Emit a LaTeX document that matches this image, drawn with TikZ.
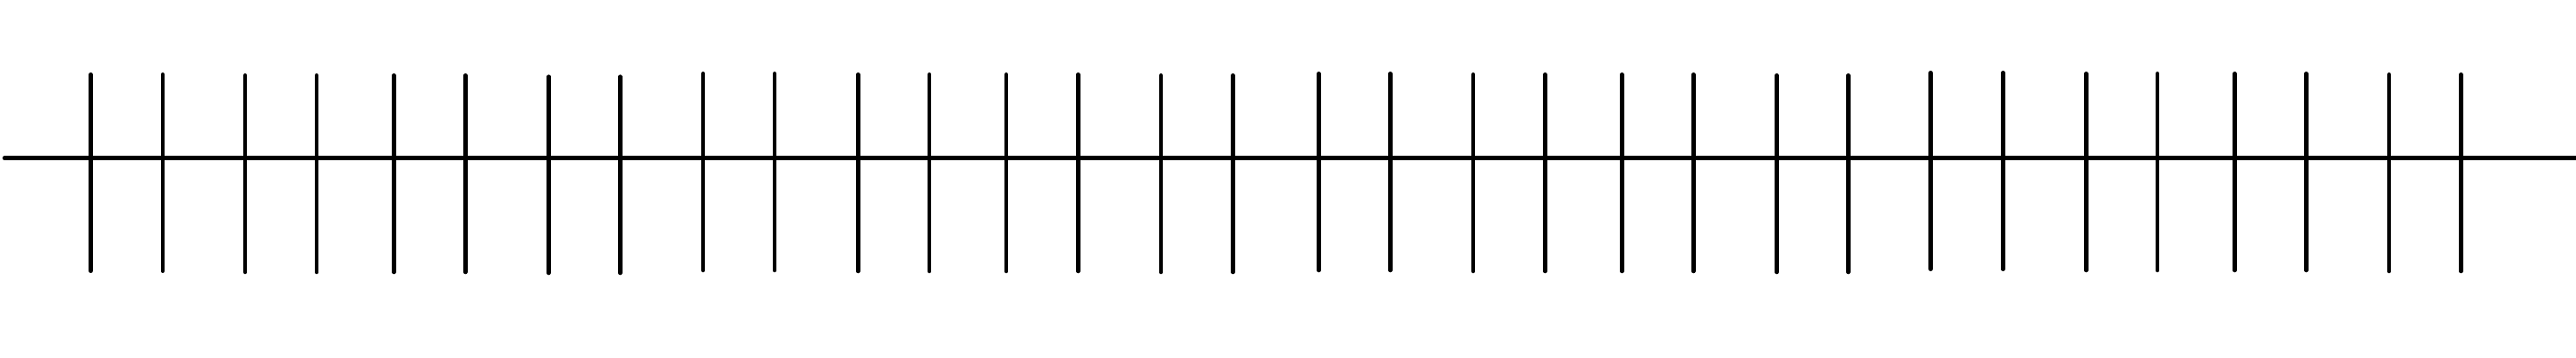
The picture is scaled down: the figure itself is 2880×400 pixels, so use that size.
\documentclass[tikz,border=0pt]{standalone}
\begin{document}
\begin{tikzpicture}[x=0.01cm,y=-0.01cm,
  axisline/.style={line width=4.6*0.01cm, line cap=round},
  tickline/.style={line width=4.6*0.01cm, line cap=round}]
\useasboundingbox (0,0) rectangle (2880,400);
\coordinate (axL) at (5,176.7);
\coordinate (axR) at (2885,176.7);
\draw[axisline] (axL) -- (axR);
\foreach \a/\b/\t/\u [count=\i] in {
  101.5/181.8/83.3/302.7,
  274.1/354/84.3/304,
  440.3/520.2/84.3/304,
  613.4/693.3/85.7/305,
  786.1/866/82.3/302,
  959.2/1039.1/83.3/303,
  1125/1205.3/83.3/303,
  1298/1378.4/84.3/304,
  1474.4/1554.3/82.3/302,
  1647.1/1727.4/83.3/303,
  1813.3/1893.2/83.3/303,
  1986.4/2066.3/84.3/304,
  2158.5/2239.4/81.3/300.7,
  2332.2/2412/82.3/302,
  2498.4/2578.3/82.3/302,
  2671/2751.4/83.3/303}{
  \coordinate (t\i a) at (\a,\t);
  \coordinate (b\i a) at (\a,\u);
  \coordinate (t\i b) at (\b,\t);
  \coordinate (b\i b) at (\b,\u);
  \draw[tickline] (t\i a) -- (b\i a);
  \draw[tickline] (t\i b) -- (b\i b);
}
\end{tikzpicture}
\end{document}
